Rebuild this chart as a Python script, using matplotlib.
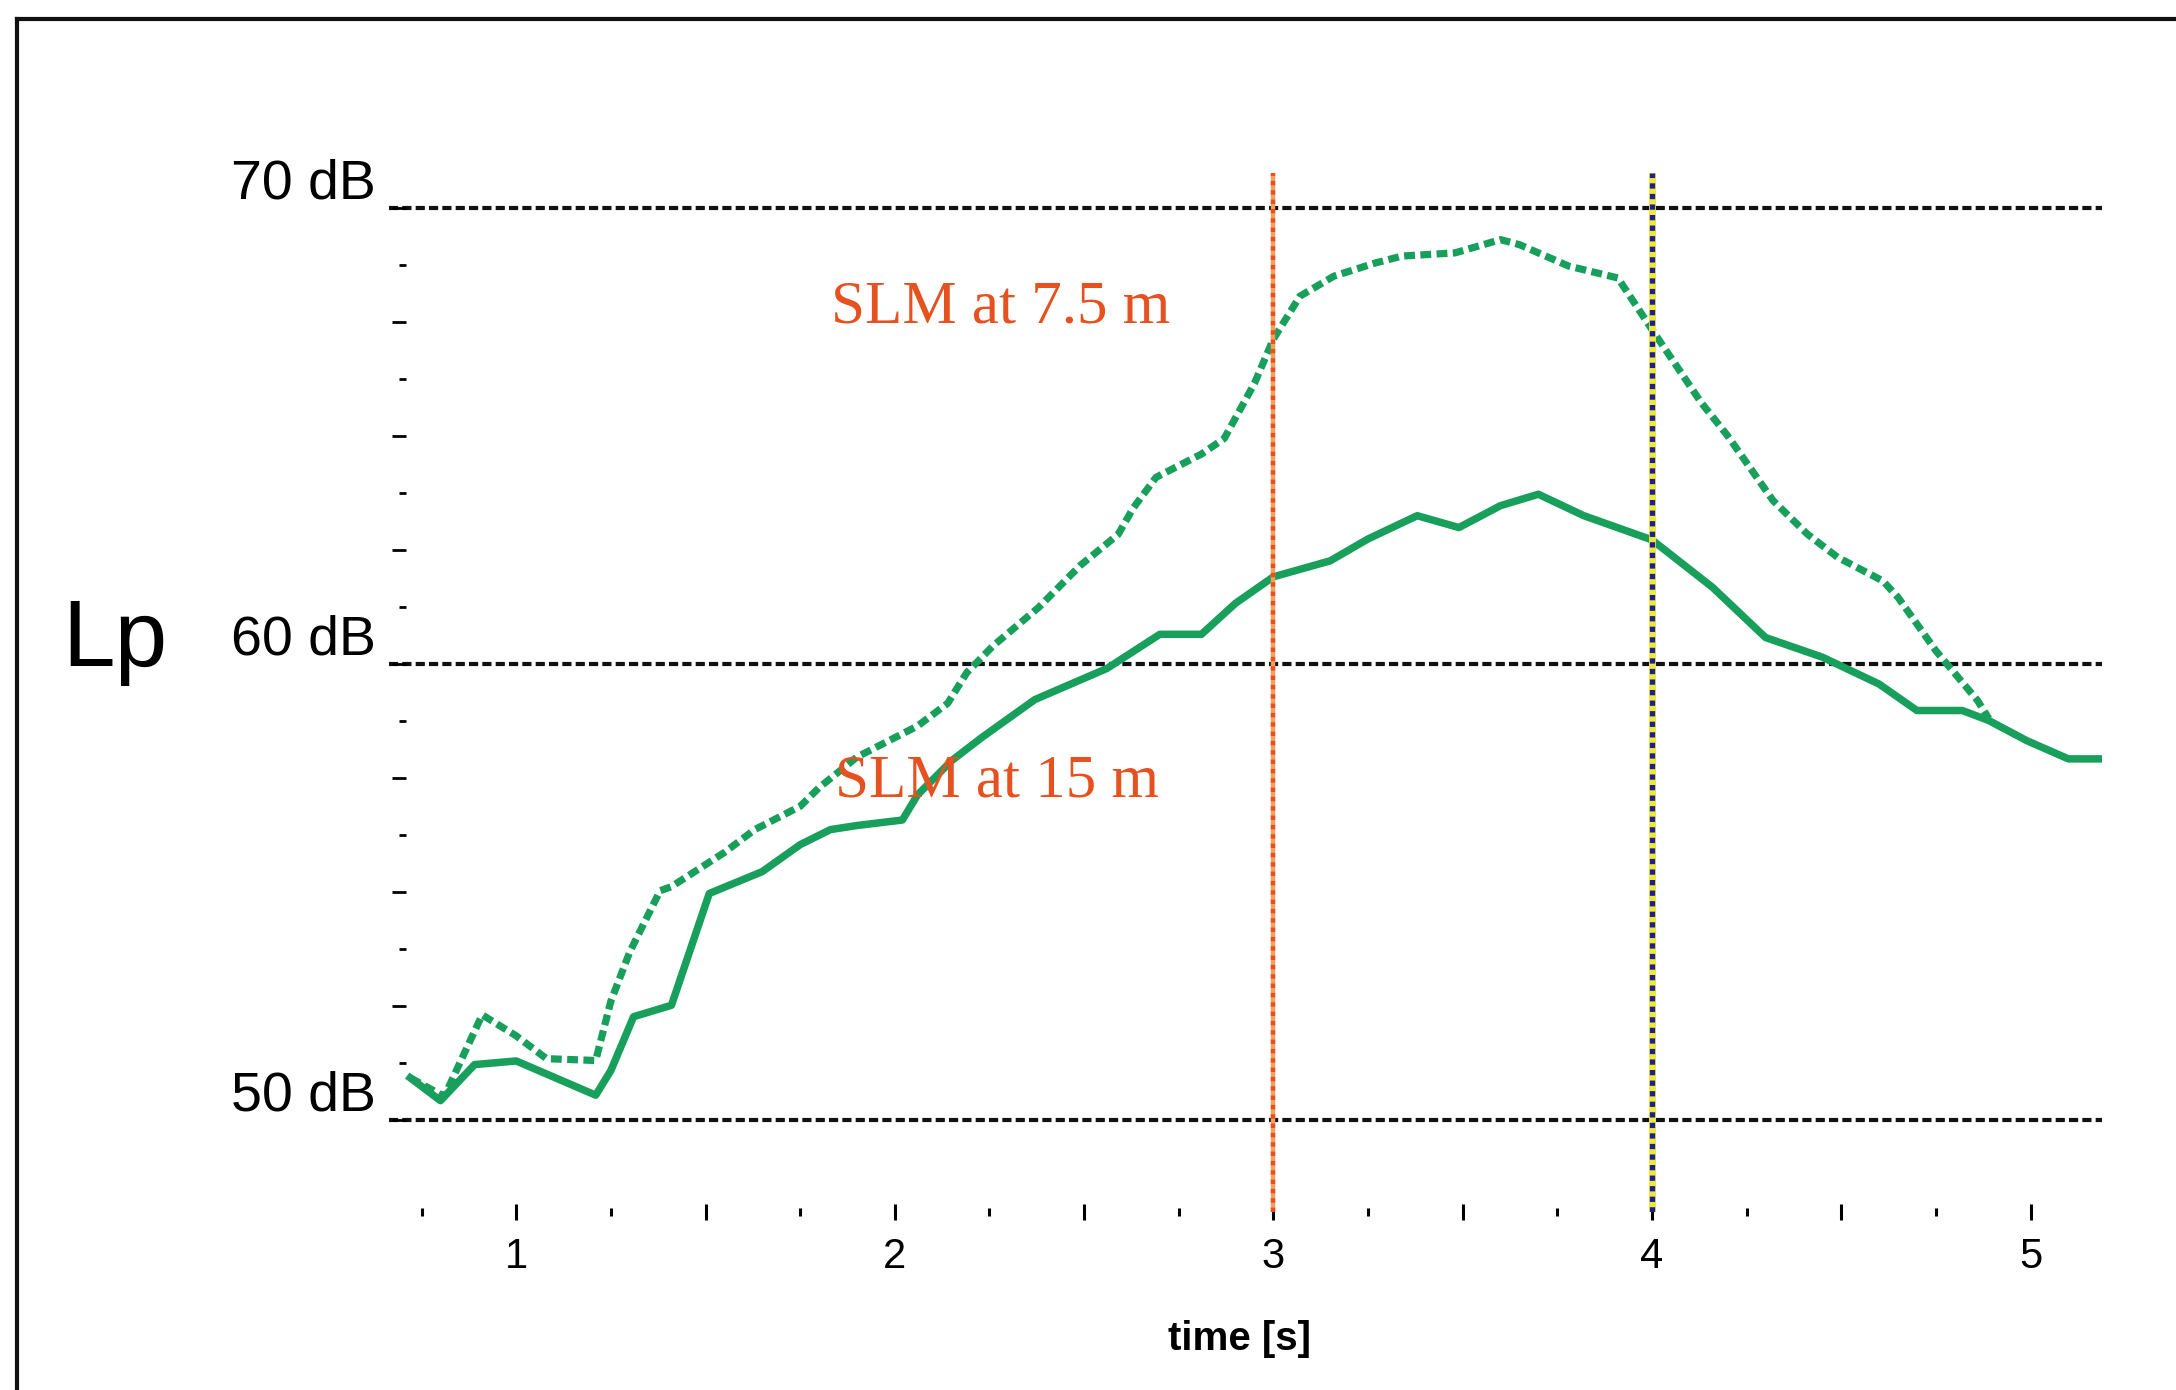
import numpy as np
import matplotlib
matplotlib.use("Agg")
import matplotlib.pyplot as plt
from matplotlib.lines import Line2D
from matplotlib.transforms import ScaledTranslation

plt.rcParams['font.family'] = ['Liberation Sans', 'DejaVu Sans']

# SLM at 7.5 m (dashed)
t_near = [0.72, 0.81, 0.91, 1.00, 1.08, 1.21, 1.25, 1.30, 1.38, 1.41, 1.55, 1.63,
          1.75, 1.80, 1.90, 2.06, 2.14, 2.19, 2.26, 2.38, 2.49, 2.59, 2.63, 2.69,
          2.81, 2.87, 2.95, 3.00, 3.07, 3.16, 3.27, 3.34, 3.48, 3.60, 3.65, 3.78,
          3.91, 4.00, 4.13, 4.20, 4.32, 4.41, 4.49, 4.61, 4.65, 4.75, 4.86, 4.89]
lp_near = [50.93, 50.52, 52.31, 51.85, 51.35, 51.31, 52.61, 53.69, 55.03, 55.12, 55.87, 56.37,
           56.88, 57.29, 57.96, 58.64, 59.14, 59.81, 60.40, 61.24, 62.16, 62.84, 63.42, 64.09,
           64.60, 64.94, 66.15, 67.12, 68.06, 68.50, 68.79, 68.94, 69.01, 69.30, 69.19, 68.72,
           68.46, 67.33, 65.73, 65.00, 63.58, 62.85, 62.34, 61.82, 61.46, 60.29, 59.20, 58.80]

# SLM at 15 m (solid)
t_far = [0.72, 0.80, 0.89, 1.00, 1.21, 1.25, 1.31, 1.41, 1.51, 1.65, 1.75, 1.83,
         1.90, 2.02, 2.06, 2.15, 2.23, 2.37, 2.56, 2.70, 2.81, 2.90, 3.00, 3.15,
         3.25, 3.38, 3.49, 3.60, 3.70, 3.82, 4.00, 4.16, 4.30, 4.45, 4.60, 4.70,
         4.82, 4.89, 4.99, 5.10, 5.19]
lp_far = [50.93, 50.43, 51.22, 51.30, 50.55, 51.09, 52.27, 52.52, 54.97, 55.45, 56.04, 56.37,
          56.46, 56.58, 57.13, 57.88, 58.39, 59.22, 59.90, 60.65, 60.65, 61.33, 61.91, 62.26,
          62.74, 63.25, 62.99, 63.47, 63.72, 63.25, 62.72, 61.68, 60.58, 60.15, 59.56, 58.98,
          58.98, 58.76, 58.32, 57.92, 57.92]

level_lines = [50, 60, 70]
level_labels = ['50 dB', '60 dB', '70 dB']
x_labels = ['1', '2', '3', '4', '5']
mark_near = 3.0
mark_far = 4.0

green = '#179f5b'
orange = '#e5521f'

fig = plt.figure(figsize=(21.76, 13.90), dpi=100)
ax = fig.add_axes([0.1786, 0.1284, 0.7876, 0.7468])
ax.set_xlim(0.663, 5.19)
ax.set_ylim(48.0, 70.75)

for s in ['top', 'right', 'bottom', 'left']:
    ax.spines[s].set_visible(False)
ax.spines['left'].set_position(('data', 0.71))

# reference levels
for lv in level_lines:
    ax.axhline(lv, color='#111111', lw=3.0, linestyle=(0, (2.2, 1.0)), zorder=1)

# curves
ax.plot(t_far, lp_far, color=green, lw=5.4, solid_joinstyle='round', zorder=2)
ax.plot(t_near, lp_near, color=green, lw=5.2, linestyle=(0, (1.5, 0.75)), zorder=2)

# vertical markers
ax.axvline(mark_near, color='#f5a060', lw=3.2, zorder=3)
ax.axvline(mark_near, color=orange, lw=3.2, linestyle=(0, (1, 1.1)), zorder=3)
ax.axvline(mark_far, color='#ece83e', lw=5.0, zorder=3)
ax.axvline(mark_far, color='#1d1d96', lw=3.8, linestyle=(0, (1, 1)), zorder=3)

# annotations
serif = ['Liberation Serif', 'DejaVu Serif']
ax.text(2.28, 67.81, 'SLM at 7.5 m', color=orange, fontsize=44,
        family=serif, ha='center', va='center', zorder=4)
ax.text(2.27, 57.42, 'SLM at 15 m', color=orange, fontsize=44,
        family=serif, ha='center', va='center', zorder=4)

# y axis ticks
yt = np.arange(50, 70.01, 2.5)
ylab = [level_labels[level_lines.index(v)] if v in level_lines else '' for v in yt]
ax.set_yticks(yt, ylab)
ax.set_yticks(np.arange(51.25, 70, 2.5), minor=True)
ax.tick_params(axis='y', which='major', direction='out', length=10, width=2.0,
               labelsize=40, pad=12)
ax.tick_params(axis='y', which='minor', direction='out', length=5, width=2.0)
off = ScaledTranslation(0, 17 / 72, fig.dpi_scale_trans)
for lab in ax.get_yticklabels():
    lab.set_verticalalignment('center')
    lab.set_transform(lab.get_transform() + off)

# x axis ticks
xt = np.arange(1, 5.01, 0.5)
xlab = [x_labels[int(v) - 1] if v == int(v) else '' for v in xt]
ax.set_xticks(xt, xlab)
ax.set_xticks(np.arange(0.75, 5.0, 0.5), minor=True)
ax.tick_params(axis='x', which='major', direction='inout', length=12, width=2.2,
               labelsize=30, pad=12)
ax.tick_params(axis='x', which='minor', direction='inout', length=6, width=2.2)

ax.set_xlabel('time [s]', fontsize=29, fontweight='bold')
ax.xaxis.set_label_coords(0.4963, -0.1228)
ax.xaxis.label.set_verticalalignment('center')

ax.set_ylabel('Lp', fontsize=68, rotation=0)
ax.yaxis.set_label_coords(-0.1596, 0.5496)
ax.yaxis.label.set_verticalalignment('center')
ax.yaxis.label.set_horizontalalignment('center')

# frame of the figure (top and left edge)
fig.add_artist(Line2D([17 / 2176, 1.0], [1 - 19 / 1390, 1 - 19 / 1390],
                      transform=fig.transFigure, color='#111111', lw=3))
fig.add_artist(Line2D([17 / 2176, 17 / 2176], [0.0, 1 - 19 / 1390],
                      transform=fig.transFigure, color='#111111', lw=3))

fig.savefig('out.png', dpi=100, facecolor='white')
